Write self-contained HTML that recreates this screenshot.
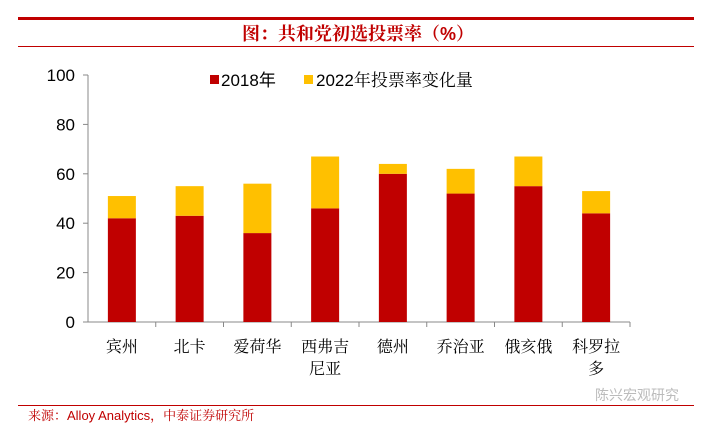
<!DOCTYPE html>
<html><head><meta charset="utf-8"><style>
body{margin:0;background:#fff;width:717px;height:429px;overflow:hidden;font-family:"Liberation Sans","Noto Serif CJK SC",serif;}
</style></head><body>
<svg width="717" height="429">
<rect x="18" y="17" width="676" height="3" fill="#c00000"/>
<text x="358" y="40" text-anchor="middle" font-size="18" font-weight="bold" fill="#c00000" font-family="Liberation Sans,'Noto Serif CJK SC',serif">图：共和党初选投票率（%）</text>
<rect x="18" y="46" width="676" height="1" fill="#c00000"/>
<g id="legend">
<rect x="210" y="75" width="9" height="9" fill="#c00000"/>
<text x="221" y="86" font-size="17" fill="#000" font-family="Liberation Sans,'Noto Sans CJK SC',sans-serif">2018年</text>
<rect x="304" y="75" width="9" height="9" fill="#ffc000"/>
<text x="316" y="86" font-size="17" fill="#000" font-family="Liberation Sans,'Noto Serif CJK SC',serif">2022年投票率变化量</text>
</g>
<g id="plot"></g>
<rect x="18" y="405" width="676" height="1" fill="#c00000"/>
<text x="28" y="420" font-size="13" fill="#c00000" font-family="Liberation Sans,'Noto Serif CJK SC',serif">来源：Alloy Analytics，中泰证券研究所</text>
<text x="595" y="400" font-size="14" fill="#bbb" font-family="Liberation Sans,'Noto Sans CJK SC',sans-serif">陈兴宏观研究</text>
</svg>
<script>
const categories=[["宾州"],["北卡"],["爱荷华"],["西弗吉","尼亚"],["德州"],["乔治亚"],["俄亥俄"],["科罗拉","多"]];
const base2018=[42,43,36,46,60,52,55,44];
const change2022=[9,12,20,21,4,10,12,9];
const yTicks=[0,20,40,60,80,100];
const NS="http://www.w3.org/2000/svg";
const g=document.getElementById('plot');
const x0=88,x1=630,y0=322,yTop=75;
const bw=(x1-x0)/categories.length;
const y=v=>y0-(v/100)*(y0-yTop);
function el(t,a){const e=document.createElementNS(NS,t);for(const k in a)e.setAttribute(k,a[k]);g.appendChild(e);return e;}
let ax=el('line',{x1:x0,y1:yTop,x2:x0,y2:y0,stroke:'#888'});


yTicks.forEach(t=>{
 let l=el('line',{x1:x0-5,x2:x0,y1:y(t),y2:y(t),stroke:'#888'});
 
 
 let tx=el('text',{x:x0-13,y:y(t)+6,'text-anchor':'end','font-size':17,fill:'#000','font-family':'Liberation Sans,sans-serif'});
 tx.textContent=t;
 
 
});
let xa=el('line',{x1:x0,y1:y0,x2:x1,y2:y0,stroke:'#888'});


categories.forEach((c,i)=>{
 const cx=x0+bw*(i+0.5),w=28;
 let r1=el('rect',{x:cx-w/2,y:y(base2018[i]),width:w,height:y0-y(base2018[i]),fill:'#c00000'});
 
 
 const tot=base2018[i]+change2022[i];
 let r2=el('rect',{x:cx-w/2,y:y(tot),width:w,height:y(base2018[i])-y(tot),fill:'#ffc000'});
 
 
 let tk=el('line',{x1:x0+bw*(i+1),x2:x0+bw*(i+1),y1:y0,y2:y0+5,stroke:'#888'});
 
 
 c.forEach((s,j)=>{
  let t=el('text',{x:cx,y:352+j*22,'text-anchor':'middle','font-size':16,fill:'#000','font-family':"'Noto Serif CJK SC',serif"});
  t.textContent=s;
  
  
 });
});
</script>
</body></html>
